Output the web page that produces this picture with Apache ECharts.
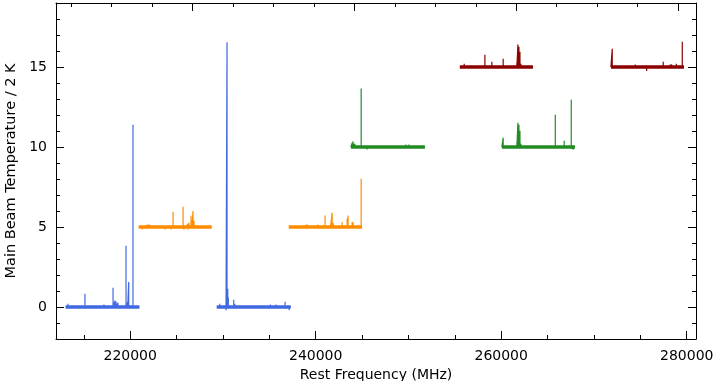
<!DOCTYPE html>
<html>
<head>
<meta charset="utf-8">
<script src="https://cdn.jsdelivr.net/npm/echarts@6/dist/echarts.min.js"></script>
<style>
html,body{margin:0;padding:0;background:#fff;}
#chart{width:715px;height:381px;}
</style>
</head>
<body>
<div id="chart"></div>
<script>
// ---- Axis ranges / ticks ----
const xMin = 212000, xMax = 281000;
const xMinorTicks = [215000,220000,225000,230000,235000,240000,245000,250000,255000,260000,265000,270000,275000,280000];
const xMajorTicks = [220000,240000,260000,280000];
// top axis (secondary, unlabelled scale)
const topMin = 3.15, topMax = 82.2;
const topMinorTicks = [5,10,15,20,25,30,35,40,45,50,55,60,65,70,75,80];
const topMajorTicks = [20,40,60,80];
const yMin = -2, yMax = 19;
const yMinorTicks = [-1,0,1,2,3,4,5,6,7,8,9,10,11,12,13,14,15,16,17,18];
const yMajorTicks = [0,5,10,15];

// ---- Spectral segments: [start MHz, end MHz] and baseline offset (K) ----
const blue1Range = [213040, 220990];
const orange1Range = [220920, 228790];
const blue2Range = [229330, 237310];
const orange2Range = [237100, 245000];
const green1Range = [243790, 251770];
const red1Range = [255540, 263420];
const green2Range = [260070, 267950];
const red2Range = [271830, 279700];

const blueBase = 0, orangeBase = 5, greenBase = 10, redBase = 15;

// ---- Line peaks: [freq MHz, value] ----
const blue1Lines = [
  [213290,0.2],[215120,0.83],[215770,0.12],[216100,0.12],[216630,0.12],[217170,0.16],
  [217820,0.12],[218150,1.2],[218360,0.39],[218470,0.35],[218680,0.26],[219550,3.83],
  [219730,0.3],[219840,1.57],[220300,11.39]
];
const blue2Lines = [
  [229650,0.2],[230330,-0.2],[230440,16.54],[230520,1.14],[230580,0.6],[231160,0.45],
  [231270,0.2],[231870,0.12],[232230,0.12],[233400,0.1],[234700,0.1],[235120,0.15],
  [235730,0.15],[236700,0.33],[237130,-0.2]
];
const orange1Lines = [
  [220930,5.08],[221300,4.85],[221780,5.14],[221890,5.14],[222100,5.14],[222460,5.1],
  [223750,4.85],[224400,4.85],[224620,5.95],[225700,6.27],[225800,4.85],[226170,5.2],
  [226240,4.85],[226340,5.27],[226560,5.7],[226660,5.39],[226770,6.0],[226880,5.39],
  [227250,5.1],[227740,5.1],[228140,5.1]
];
const orange2Lines = [
  [238860,5.1],[239070,5.15],[239610,5.1],[240260,5.15],[241010,5.72],[241600,5.2],
  [241770,5.89],[241880,5.25],[242310,5.1],[242850,5.3],[243170,5.1],[243390,5.52],
  [243490,5.72],[243930,5.3],[244030,5.3],[244900,8.02]
];
const green1Lines = [
  [243930,10.25],[244030,10.35],[244220,10.2],[244430,10.1],[244900,13.65],[245540,9.85],
  [247270,10.1],[248130,10.1],[249720,10.15],[250040,10.15],[250370,10.1],[250770,10.1]
];
const red1Lines = [
  [256010,15.2],[256300,15.1],[256510,15.1],[258240,15.77],[258990,15.33],[260210,15.52],
  [261180,15.1],[261690,15.27],[261800,16.4],[261910,16.27],[262020,15.96],[262120,15.2],
  [262200,15.1]
];
const green2Lines = [
  [260210,10.58],[261180,10.1],[261690,10.27],[261800,11.52],[261910,11.39],[262020,11.02],
  [262120,10.2],[263660,10.1],[265830,12.02],[266360,9.9],[266790,10.39],[267220,10.1],
  [267550,12.96],[267760,9.85]
];
const red2Lines = [
  [271970,16.14],[273050,15.1],[273370,15.1],[274450,15.15],[274820,15.05],[275680,14.75],
  [276390,15.05],[276980,15.1],[277470,15.33],[278200,15.15],[278380,15.15],[278880,15.2],
  [279170,15.05],[279520,16.58]
];

const blueColor = '#4169e1', orangeColor = '#ff8c00', greenColor = '#228b22', redColor = '#8b0000';

function spikeData(range, base, lines) {
  const d = [[range[0], base]];
  lines.slice().sort((a,b)=>a[0]-b[0]).forEach(([f, v]) => { d.push([f, base], [f, v], [f, base]); });
  d.push([range[1], base]);
  return d;
}
function segSeries(range, base, lines, color) {
  return [
    {type:'line', data:[[range[0], base],[range[1], base]], symbol:'none', silent:true,
     lineStyle:{color:color, width:3.5, cap:'butt'}},
    {type:'line', data:spikeData(range, base, lines), symbol:'none', silent:true,
     lineStyle:{color:color, width:1.2, join:'bevel'}}
  ];
}

const font = 'DejaVu Sans';
const black = '#000';
function hiddenAxis(extra) {
  return Object.assign({
    type:'value', splitLine:{show:false}, axisLabel:{show:false},
    axisLine:{show:false, onZero:false}, silent:true
  }, extra);
}
const plain = v => String(v);

const option = {
  animation:false,
  backgroundColor:'#fff',
  grid:{left:56, top:3, width:640, height:336, containLabel:false, outerBoundsMode:'none'},
  xAxis:[
    hiddenAxis({position:'bottom', min:xMin, max:xMax,
      axisLine:{show:true, onZero:false, lineStyle:{color:black, width:1}},
      axisTick:{show:true, inside:true, length:4, customValues:xMinorTicks, lineStyle:{color:black}},
      axisLabel:{show:true, customValues:xMajorTicks, formatter:plain, color:black, fontSize:14, fontFamily:font, margin:10, hideOverlap:false},
      name:'Rest Frequency (MHz)', nameLocation:'middle', nameGap:25,
      nameTextStyle:{color:black, fontSize:14, fontFamily:font}}),
    hiddenAxis({position:'bottom', min:xMin, max:xMax,
      axisTick:{show:true, inside:true, length:8, customValues:xMajorTicks, lineStyle:{color:black}}}),
    hiddenAxis({position:'top', min:topMin, max:topMax,
      axisLine:{show:true, onZero:false, lineStyle:{color:black, width:1}},
      axisTick:{show:true, inside:true, length:4, customValues:topMinorTicks, lineStyle:{color:black}}}),
    hiddenAxis({position:'top', min:topMin, max:topMax,
      axisTick:{show:true, inside:true, length:8, customValues:topMajorTicks, lineStyle:{color:black}}})
  ],
  yAxis:[
    hiddenAxis({position:'left', min:yMin, max:yMax,
      axisLine:{show:true, onZero:false, lineStyle:{color:black, width:1}},
      axisTick:{show:true, inside:true, length:4, customValues:yMinorTicks, lineStyle:{color:black}},
      axisLabel:{show:true, customValues:yMajorTicks, formatter:plain, color:black, fontSize:14, fontFamily:font, margin:9},
      name:'Main Beam Temperature / 2 K', nameLocation:'middle', nameGap:37,
      nameTextStyle:{color:black, fontSize:14.5, fontFamily:font}}),
    hiddenAxis({position:'left', min:yMin, max:yMax,
      axisTick:{show:true, inside:true, length:8, customValues:yMajorTicks, lineStyle:{color:black}}}),
    hiddenAxis({position:'right', min:yMin, max:yMax,
      axisLine:{show:true, onZero:false, lineStyle:{color:black, width:1}},
      axisTick:{show:true, inside:true, length:4, customValues:yMinorTicks, lineStyle:{color:black}}}),
    hiddenAxis({position:'right', min:yMin, max:yMax,
      axisTick:{show:true, inside:true, length:8, customValues:yMajorTicks, lineStyle:{color:black}}})
  ],
  series:[].concat(
    segSeries(blue1Range, blueBase, blue1Lines, blueColor),
    segSeries(blue2Range, blueBase, blue2Lines, blueColor),
    segSeries(orange1Range, orangeBase, orange1Lines, orangeColor),
    segSeries(orange2Range, orangeBase, orange2Lines, orangeColor),
    segSeries(green1Range, greenBase, green1Lines, greenColor),
    segSeries(green2Range, greenBase, green2Lines, greenColor),
    segSeries(red1Range, redBase, red1Lines, redColor),
    segSeries(red2Range, redBase, red2Lines, redColor)
  )
};
const chart = echarts.init(document.getElementById('chart'), null, {renderer:'canvas'});
chart.setOption(option);
</script>
</body>
</html>
